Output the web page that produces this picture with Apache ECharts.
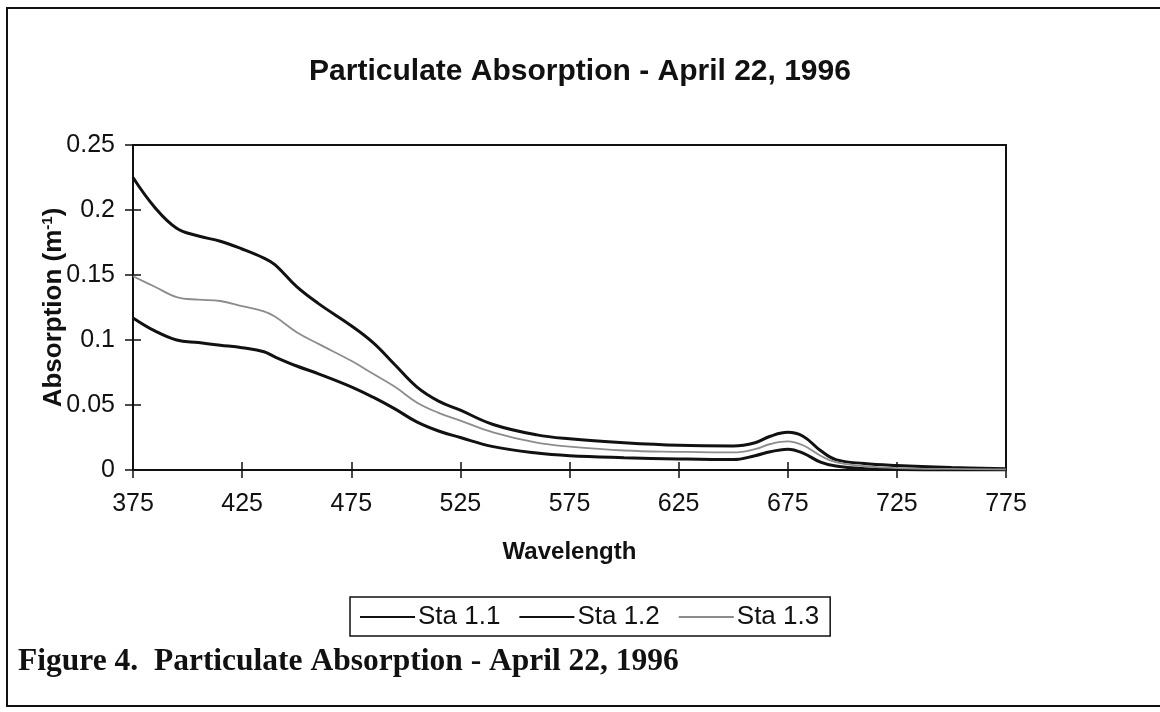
<!DOCTYPE html>
<html>
<head>
<meta charset="utf-8">
<title>Particulate Absorption</title>
<script src="https://cdn.jsdelivr.net/npm/echarts@6/dist/echarts.min.js"></script>
<style>
    html, body { margin: 0; padding: 0; background: #fff; }
    #main { width: 1160px; height: 712px; }
</style>
</head>
<body>
<div id="main"></div>
<script>
// 波长（nm）
var wavelength = [375, 385, 395, 405, 415, 425, 435, 440, 450, 460, 475, 485, 495, 505, 515, 525,
    540, 560, 575, 600, 625, 650, 660, 667, 675, 682, 690, 697, 710, 725, 750, 775];
// 各站点吸收系数
var sta11 = [0.225, 0.202, 0.186, 0.180, 0.176, 0.170, 0.163, 0.158, 0.141, 0.128, 0.111, 0.098, 0.081, 0.064, 0.053, 0.046,
    0.035, 0.027, 0.024, 0.021, 0.019, 0.0185, 0.021, 0.026, 0.029, 0.026, 0.015, 0.008, 0.005, 0.0035, 0.002, 0.001];
var sta12 = [0.117, 0.107, 0.100, 0.098, 0.096, 0.094, 0.091, 0.087, 0.080, 0.074, 0.064, 0.056, 0.047, 0.037, 0.030, 0.025,
    0.018, 0.013, 0.011, 0.0095, 0.0085, 0.008, 0.011, 0.014, 0.016, 0.013, 0.006, 0.003, 0.001, 0.0003, 0, 0];
var sta13 = [0.149, 0.141, 0.133, 0.131, 0.130, 0.126, 0.122, 0.118, 0.106, 0.097, 0.084, 0.074, 0.064, 0.052, 0.044, 0.038,
    0.029, 0.021, 0.018, 0.015, 0.014, 0.0135, 0.016, 0.020, 0.022, 0.019, 0.011, 0.006, 0.003, 0.0015, 0.0008, 0.0005];
// 刻度
var xTicks = [375, 425, 475, 525, 575, 625, 675, 725, 775];
var seriesNames = ['Sta 1.1', 'Sta 1.2', 'Sta 1.3'];

(function () {
    function pairs(ys) {
        return wavelength.map(function (w, i) { return [w, ys[i]]; });
    }
    var font = 'Liberation Sans, Arial, sans-serif';
    var myechart = echarts.init(document.getElementById('main'));
    var option = {
        animation: false,
        backgroundColor: '#fff',
        title: {
            text: 'Particulate Absorption - April 22, 1996',
            left: 'center',
            top: 52,
            textStyle: { fontFamily: font, fontSize: 30, fontWeight: 'bold', color: '#111' }
        },
        grid: {
            left: 133, right: 154, top: 145, bottom: 242,
            show: true, borderColor: '#111', borderWidth: 2
        },
        legend: {
            data: seriesNames,
            icon: 'rect',
            left: 350,
            top: 597,
            itemWidth: 55,
            itemHeight: 2,
            itemGap: 19,
            padding: [7, 11, 6, 10],
            borderColor: '#111',
            borderWidth: 1.5,
            textStyle: { fontFamily: font, fontSize: 26, color: '#111', padding: [0, 0, 0, -2] }
        },
        xAxis: [{
            type: 'value',
            min: 375, max: 775,
            name: 'Wavelength',
            nameLocation: 'middle',
            nameGap: 70,
            nameTextStyle: { fontFamily: font, fontSize: 24, fontWeight: 'bold', color: '#111' },
            axisLine: { show: true, lineStyle: { color: '#111', width: 2 } },
            axisTick: { show: true, customValues: xTicks, length: 8, lineStyle: { color: '#111', width: 1.5 } },
            axisLabel: { customValues: xTicks, margin: 22, fontFamily: font, fontSize: 25, color: '#111' },
            splitLine: { show: false }
        }, {
            // 内侧刻度，使刻度线穿过轴线
            type: 'value',
            position: 'bottom',
            min: 375, max: 775,
            axisLine: { show: false },
            axisTick: { show: true, inside: true, customValues: xTicks, length: 8, lineStyle: { color: '#111', width: 1.5 } },
            axisLabel: { show: false },
            splitLine: { show: false }
        }],
        yAxis: [{
            type: 'value',
            min: 0, max: 0.25, interval: 0.05,
            name: 'Absorption (m{sup|-1})',
            nameLocation: 'middle',
            nameRotate: 90,
            nameGap: 66,
            nameMoveOverlap: false,
            nameTextStyle: {
                fontFamily: font, fontSize: 26, fontWeight: 'bold', color: '#111',
                rich: { sup: { fontFamily: font, fontSize: 15, fontWeight: 'bold', color: '#111', verticalAlign: 'top', padding: [0, 0, 12, 0] } }
            },
            axisLine: { show: true, lineStyle: { color: '#111', width: 2 } },
            axisTick: { show: true, length: 8, lineStyle: { color: '#111', width: 1.5 } },
            axisLabel: {
                margin: 18, fontFamily: font, fontSize: 25, color: '#111',
                formatter: function (v) { return String(+v.toFixed(2)); }
            },
            splitLine: { show: false }
        }, {
            type: 'value',
            position: 'left',
            min: 0, max: 0.25, interval: 0.05,
            axisLine: { show: false },
            axisTick: { show: true, inside: true, length: 8, lineStyle: { color: '#111', width: 1.5 } },
            axisLabel: { show: false },
            splitLine: { show: false }
        }],
        series: [{
            name: seriesNames[0],
            type: 'line',
            data: pairs(sta11),
            smooth: 0.4,
            symbol: 'none',
            lineStyle: { color: '#111', width: 3 },
            itemStyle: { color: '#111' }
        }, {
            name: seriesNames[1],
            type: 'line',
            data: pairs(sta12),
            smooth: 0.4,
            symbol: 'none',
            lineStyle: { color: '#111', width: 3 },
            itemStyle: { color: '#111' }
        }, {
            name: seriesNames[2],
            type: 'line',
            data: pairs(sta13),
            smooth: 0.4,
            symbol: 'none',
            lineStyle: { color: '#8c8c8c', width: 1.8 },
            itemStyle: { color: '#8c8c8c' }
        }],
        graphic: [{
            // 外框
            type: 'polyline',
            silent: true,
            shape: { points: [[1165, 8], [7, 8], [7, 706], [1165, 706]] },
            style: { stroke: '#111', lineWidth: 2, fill: null }
        }, {
            type: 'text',
            left: 18,
            top: 646,
            style: {
                text: 'Figure 4.  Particulate Absorption - April 22, 1996',
                fontFamily: 'Liberation Serif, Times New Roman, serif',
                fontSize: 31.5,
                fontWeight: 'bold',
                fill: '#111'
            }
        }]
    };
    myechart.setOption(option);
})();
</script>
</body>
</html>
